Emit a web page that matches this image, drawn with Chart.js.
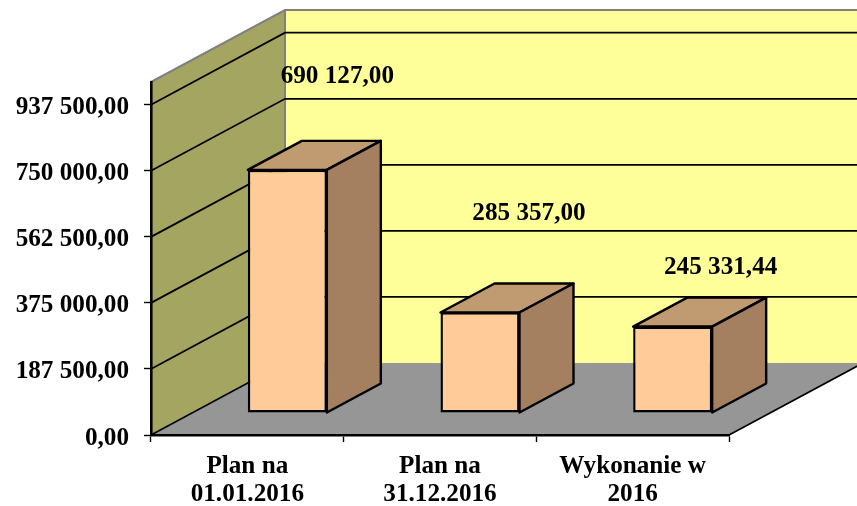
<!DOCTYPE html>
<html>
<head>
<meta charset="utf-8">
<style>html,body{margin:0;padding:0;background:#fff}canvas{display:block}</style>
<script src="https://cdn.jsdelivr.net/npm/chart.js@4"></script>
</head>
<body>
<canvas id="c" width="857" height="506"></canvas>
<script>
const categories = [["Plan na","01.01.2016"],["Plan na","31.12.2016"],["Wykonanie w","2016"]];
const values = [690127.00, 285357.00, 245331.44];
const valueLabels = ["690 127,00","285 357,00","245 331,44"];
const yTicks = [0,187500,375000,562500,750000,937500];
const yTickLabels = ["0,00","187 500,00","375 000,00","562 500,00","750 000,00","937 500,00"];

const FONT = 'bold 25.2px "Liberation Serif"';
const DEPTH = {x:134, y:-72};
const BAR_SHIFT = {x:40, y:-22};
const BAR_DEPTH = {x:54, y:-29};
const LABEL_OFFSET = [[90,-115],[89,-121],[88,-81]];

function poly(ctx, pts, fill, stroke, lw){
  ctx.beginPath();
  pts.forEach((p,i)=> i?ctx.lineTo(p[0],p[1]):ctx.moveTo(p[0],p[1]));
  ctx.closePath();
  if(fill){ctx.fillStyle=fill;ctx.fill();}
  if(stroke){ctx.strokeStyle=stroke;ctx.lineWidth=lw;ctx.lineJoin='round';ctx.stroke();}
}
const scene = {
  id:'scene3d',
  beforeDraw(chart){
    const {ctx,chartArea:a,scales:{y}} = chart;
    const dx=DEPTH.x, dy=DEPTH.y;
    ctx.save();
    poly(ctx,[[a.left+dx,a.top+dy],[a.right+dx,a.top+dy],[a.right+dx,a.bottom+dy],[a.left+dx,a.bottom+dy]],'#FFFF99');
    poly(ctx,[[a.left,a.top],[a.left+dx,a.top+dy],[a.left+dx,a.bottom+dy],[a.left,a.bottom]],'#A5A562');
    poly(ctx,[[a.left,a.bottom],[a.right,a.bottom],[a.right+dx,a.bottom+dy],[a.left+dx,a.bottom+dy]],'#969696');
    ctx.strokeStyle='#808080';ctx.lineWidth=2;
    ctx.beginPath();
    ctx.moveTo(a.left,a.top);ctx.lineTo(a.left+dx,a.top+dy);ctx.lineTo(a.right+dx,a.top+dy);
    ctx.moveTo(a.left+dx,a.top+dy);ctx.lineTo(a.left+dx,a.bottom+dy);
    ctx.stroke();
    ctx.strokeStyle='#000';ctx.lineWidth=1.8;
    yTicks.forEach(t=>{
      if(t===0) return;
      const py=y.getPixelForValue(t);
      ctx.beginPath();
      ctx.moveTo(a.left,py);ctx.lineTo(a.left+dx,py+dy);ctx.lineTo(a.right+dx,py+dy);
      ctx.stroke();
    });
    ctx.lineWidth=1.6;
    ctx.beginPath();
    ctx.moveTo(a.left,a.bottom);ctx.lineTo(a.left+dx,a.bottom+dy);
    ctx.moveTo(a.right,a.bottom);ctx.lineTo(a.right+dx,a.bottom+dy);
    ctx.stroke();
    ctx.restore();
  },
  beforeDatasetsDraw(chart){
    const ctx=chart.ctx;
    const meta=chart.getDatasetMeta(0);
    const bx=BAR_DEPTH.x, by=BAR_DEPTH.y;
    ctx.save();
    ctx.translate(BAR_SHIFT.x,BAR_SHIFT.y);
    meta.data.forEach(b=>{
      const l=b.x-b.width/2, r=b.x+b.width/2, t=b.y, bt=b.base;
      poly(ctx,[[l,t],[r,t],[r+bx,t+by],[l+bx,t+by]],'#C09A70','#000',2.4);
      poly(ctx,[[r,t],[r+bx,t+by],[r+bx,bt+by],[r,bt]],'#A58060','#000',2.4);
    });
  },
  afterDatasetsDraw(chart){
    const ctx=chart.ctx;
    ctx.restore();
    const meta=chart.getDatasetMeta(0);
    ctx.save();
    ctx.font=FONT;ctx.fillStyle='#000';ctx.textAlign='center';ctx.textBaseline='middle';
    meta.data.forEach((b,i)=>{
      ctx.fillText(valueLabels[i],b.x+LABEL_OFFSET[i][0],b.y+LABEL_OFFSET[i][1]);
    });
    ctx.restore();
  }
};
new Chart(document.getElementById('c'),{
  type:'bar',
  plugins:[scene],
  data:{labels:categories,datasets:[{data:values,backgroundColor:'#FFCC99',borderColor:'#000',borderWidth:2.4,borderSkipped:false,
    barPercentage:0.41,categoryPercentage:1}]},
  options:{
    responsive:false,animation:false,
    layout:{padding:{top:82,right:128,left:0,bottom:0}},
    plugins:{legend:{display:false},tooltip:{enabled:false},title:{display:false}},
    scales:{
      x:{
        grid:{drawOnChartArea:false,color:'#000',tickLength:7,tickWidth:1.4,tickColor:'#000'},
        border:{display:true,color:'#000',width:2.6},
        ticks:{color:'#000',font:{family:'"Liberation Serif"',size:25.2,weight:'bold',lineHeight:1.11},padding:11,maxRotation:0,autoSkip:false},
        afterFit(s){s.height=71;}
      },
      y:{
        min:0,max:1002000,
        afterBuildTicks(s){s.ticks=yTicks.map(v=>({value:v}));},
        grid:{drawOnChartArea:false,color:'#000',tickLength:7,tickWidth:1.4,tickColor:'#000'},
        border:{display:true,color:'#000',width:2.6},
        ticks:{color:'#000',font:{family:'"Liberation Serif"',size:25.2,weight:'bold'},padding:15,
          callback(v){const i=yTicks.indexOf(v);return i>=0?yTickLabels[i]:'';}},
        afterFit(s){s.width=151;},
        afterUpdate(s){
          if(s._labelsShifted) return;
          s._labelsShifted=true;
          const orig=s.drawLabels.bind(s);
          s.drawLabels=(ca)=>{s.ctx.save();s.ctx.translate(0,3);orig(ca);s.ctx.restore();};
        }
      }
    }
  }
});
</script>
</body>
</html>
